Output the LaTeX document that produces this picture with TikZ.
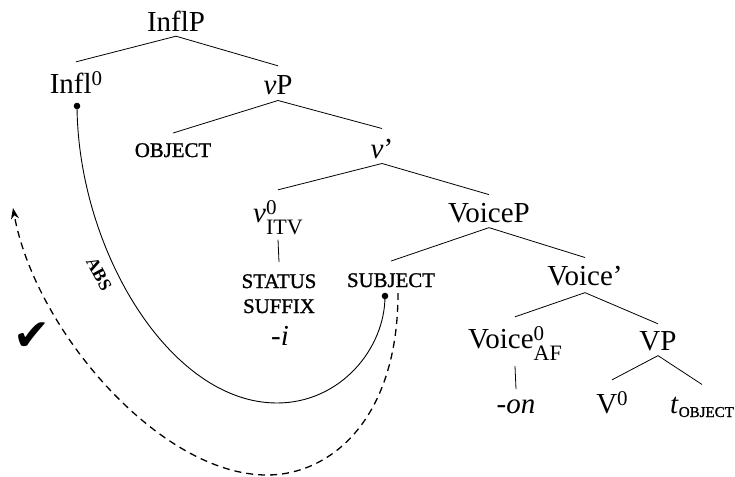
\documentclass[tikz,border=0pt]{standalone}
\usepackage{fontspec}
\setmainfont{Liberation Serif}
\newfontfamily\dejavu{DejaVu Sans}
\newfontfamily\scfont{Liberation Serif}[FakeBold=1.2]
\usetikzlibrary{arrows.meta}
\newcommand\mainsz{\fontsize{29}{34}\selectfont}
\newcommand\scsz{\scfont\fontsize{20.8}{24}\selectfont}
\newcommand\MySup[1]{\raisebox{8pt}{\fontsize{21}{21}\selectfont #1}}
\newcommand\MySupSub[2]{\makebox[0pt][l]{\raisebox{8pt}{\fontsize{21}{21}\selectfont #1}}\raisebox{-12pt}{\fontsize{22}{22}\selectfont #2}}
\tikzset{
  tn/.style={anchor=base, inner sep=0pt, font=\mainsz},
  sc/.style={anchor=base, inner sep=0pt, font=\scsz},
  br/.style={line width=0.8pt},
  dotm/.style={fill=black},
  mv/.style={line width=0.9pt},
  dmv/.style={line width=1.3pt, dash pattern=on 7pt off 5pt, -{Stealth[length=11pt,width=8pt]}}
}
\begin{document}
\begin{tikzpicture}[x=1pt,y=-1pt]
\useasboundingbox (0,0) rectangle (735,476);
% nodes
\node[tn] (inflp) at (176,32) {InflP};
\node[tn] (infl) at (76,94) {Infl\MySup{0}};
\node[tn] (vp) at (278,95) {\textit{v}P};
\node[sc] (obj) at (173,157) {OBJECT};
\node[tn] (vbar) at (382,158) {\textit{v}’};
\node[tn] (v0) at (278,222) {\textit{v}\MySupSub{0}{ITV}};
\node[sc] (status) at (279,288) {STATUS};
\node[sc] (suffix) at (279,313) {SUFFIX};
\node[tn] (i) at (280,345) {\textit{-i}};
\node[tn] (voicep) at (489,222) {VoiceP};
\node[sc] (subj) at (391,287) {SUBJECT};
\node[tn] (voicebar) at (585,285) {Voice’};
\node[tn] (voice0) at (515,348) {Voice\MySupSub{0}{AF}};
\node[tn] (vpp) at (658,350) {VP};
\node[tn] (on) at (516,413) {\textit{-on}};
\node[tn] (V0) at (612,413) {V\MySup{0}};
\node[tn] (t) at (702,413) {\textit{t}\raisebox{-4pt}{\scfont\fontsize{15}{15}\selectfont OBJECT}};
% branches
\draw[br] ([yshift=-4pt]inflp.south) -- ([yshift=10pt]infl.north);
\draw[br] ([yshift=-4pt]inflp.south) -- ([yshift=10pt]vp.north);
\draw[br] ([yshift=-5pt]vp.south) -- ([yshift=10pt]obj.north);
\draw[br] ([yshift=-5pt]vp.south) -- ([yshift=10pt]vbar.north);
\draw[br] ([yshift=-5pt]vbar.south) -- ([yshift=10pt]v0.north);
\draw[br] ([yshift=-5pt]vbar.south) -- ([yshift=8pt]voicep.north);
\draw[br] ([yshift=-5pt]v0.south) -- ([yshift=12pt]status.north);
\draw[br] ([yshift=-5pt]voicep.south) -- ([yshift=12pt]subj.north);
\draw[br] ([yshift=-5pt]voicep.south) -- ([yshift=8pt]voicebar.north);
\draw[br] ([yshift=-7pt]voicebar.south) -- ([yshift=9pt]voice0.north);
\draw[br] ([yshift=-7pt]voicebar.south) -- ([yshift=7pt]vpp.north);
\draw[br] ([yshift=-6pt]voice0.south) -- ([yshift=10pt]on.north);
\draw[br] ([yshift=-5pt]vpp.south) -- ([yshift=11pt]V0.north);
\draw[br] ([yshift=-5pt]vpp.south) -- ([yshift=12pt]t.north);
% movement
\coordinate (d1) at ([xshift=1pt,yshift=-12pt]infl.base);
\coordinate (d2) at ([xshift=-6pt,yshift=-9pt]subj.base);
\coordinate (m1) at (277,403);
\draw[mv] (d1) .. controls +(1,144) and +(-107,0) .. (m1) .. controls +(63,0) and +(0,53) .. (d2);
\fill[dotm] (d1) circle (3.3pt);
\fill[dotm] (d2) circle (3.3pt);
\coordinate (e1) at ([xshift=7pt,yshift=-6pt]subj.base);
\coordinate (m2) at (267,475);
\coordinate (tip) at (13,208);
\draw[dmv] (e1) .. controls +(0,127) and +(63,0) .. (m2) .. controls +(-107,0) and +(22,122) .. (tip);
\node[rotate=-62, inner sep=0pt, font=\bfseries\fontsize{18}{18}\selectfont] (abs) at (99,274) {ABS};
\node[inner sep=0pt, font=\dejavu\fontsize{44}{44}\selectfont] (chk) at (32,337) {✔};
\end{tikzpicture}
\end{document}
